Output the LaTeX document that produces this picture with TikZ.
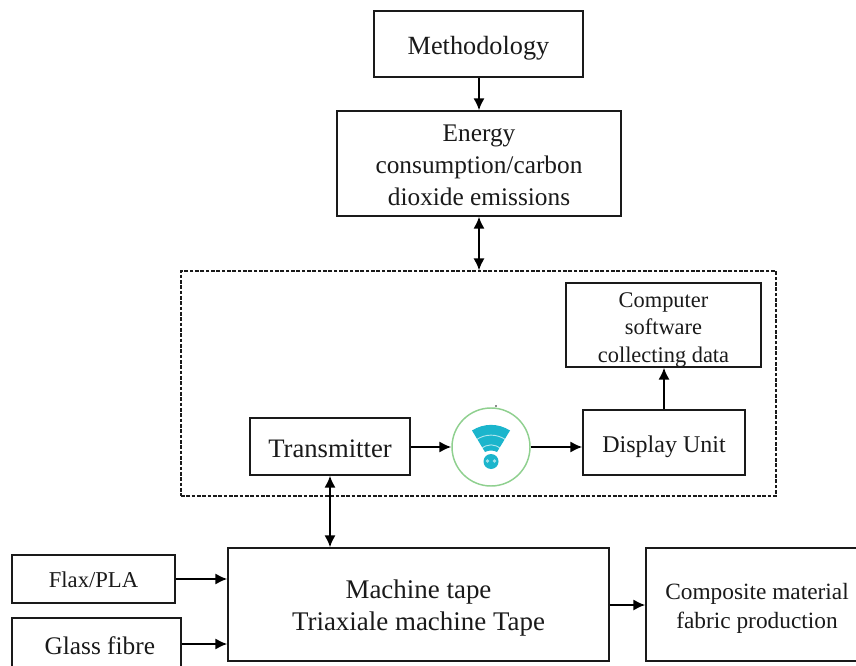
\documentclass[tikz,border=0pt]{standalone}
\usepackage{fontspec}
\setmainfont{Liberation Serif}
\usetikzlibrary{arrows.meta}
\definecolor{ink}{HTML}{1A1A1A}
\definecolor{wificol}{HTML}{1BB5CC}
\definecolor{ringcol}{HTML}{8FD08F}
\tikzset{
  box/.style={draw=ink,line width=1.1pt,fill=white,inner sep=0pt},
  txt/.style 2 args={align=center,inner sep=0pt,text=ink,
    font=\fontsize{#1pt}{#2pt}\selectfont},
  conn/.style={draw=black,line width=1.5pt,-{Latex[length=9pt,width=8.5pt]}},
  dconn/.style={draw=black,line width=1.5pt,{Latex[length=9pt,width=8.5pt]}-{Latex[length=9pt,width=8.5pt]}},
}
% \bx{name}{x1}{y1}{x2}{y2}{size}{leading}{dy px}{text}
\newcommand{\bx}[9]{%
  \node[box,minimum width=(#4-#2)*0.75pt,minimum height=(#5-#3)*0.75pt,
    label={[txt={#6}{#7},yshift=-#8*0.75pt]center:{#9}}] (#1) at ({(#2+#4)/2},{(#3+#5)/2}) {};}
\begin{document}
\begin{tikzpicture}[x=0.75pt,y=-0.75pt]
\useasboundingbox (0,0) rectangle (856,666);
\fill[white] (0,0) rectangle (856,666);
\clip (0,0) rectangle (856,666);
\bx{meth}{374}{11}{583}{77}{19.7}{24}{4}{Methodology}
\bx{energy}{337}{111}{621}{216}{19}{24}{2}{Energy\\consumption/carbon\\dioxide emissions}
\node[draw=ink,dash pattern=on 2.7pt off 1.3pt,line width=1pt,minimum width=446.25pt,minimum height=168.75pt,inner sep=0pt] (frame) at (478.5,383.5) {};
\bx{comp}{566}{283}{761}{367}{16.8}{20.5}{5}{Computer\\software\\collecting data}
\bx{disp}{583}{410}{745}{475}{18}{21}{4}{Display Unit}
\bx{trans}{250}{418}{410}{475}{20}{24}{2}{Transmitter}
\node[circle,draw=ringcol,line width=1.1pt,minimum size=58.5pt,inner sep=0pt,fill=white] (wifi) at (491,447) {};
\bx{mach}{228}{548}{609}{661}{20.2}{24}{4}{Machine tape\\Triaxiale machine Tape}
\bx{flax}{12}{555}{175}{603}{17}{20}{1}{Flax/PLA}
\bx{glass}{12}{618}{181}{672}{19}{22}{1}{\hspace*{5pt}Glass fibre}
\bx{compo}{646}{548}{868}{661}{17.5}{21.75}{3.5}{Composite material\\fabric production}
% wifi icon
\fill[wificol] (472,430.5) .. controls (484,423) and (498,423) .. (510,430.5) -- (497,452) .. controls (493,450) and (489,450) .. (485,452) -- cycle;
\fill[wificol] (491,461.5) circle[radius=7.5];
\draw[white,opacity=.65,line width=.7pt] (476,440) .. controls (485,433.5) and (497,433.5) .. (506,440);
\draw[white,opacity=.65,line width=.7pt] (481,449) .. controls (487,443.5) and (495,443.5) .. (501,449);
\fill[white,opacity=.6] (487.5,461) circle[radius=1.8] (494.5,461) circle[radius=1.8];
\fill[ink] (496,406) circle[radius=.9];
% connector anchor columns/rows
\coordinate (cA) at (479,0);
\coordinate (cB) at (664,0);
\coordinate (cC) at (330,0);
\coordinate (r1) at (0,447);
\coordinate (r2) at (0,579);
\coordinate (r3) at (0,644);
\coordinate (r4) at (0,605);
\draw[conn] (meth.south -| cA) -- (energy.north -| cA);
\draw[dconn] (energy.south -| cA) -- (frame.north -| cA);
\draw[conn] (disp.north -| cB) -- (comp.south -| cB);
\draw[conn] (trans.east |- r1) -- (wifi.west |- r1);
\draw[conn] (wifi.east |- r1) -- (disp.west |- r1);
\draw[dconn] (mach.north -| cC) -- (trans.south -| cC);
\draw[conn] (flax.east |- r2) -- (mach.west |- r2);
\draw[conn] (glass.east |- r3) -- (mach.west |- r3);
\draw[conn] (mach.east |- r4) -- (compo.west |- r4);
\end{tikzpicture}
\end{document}
